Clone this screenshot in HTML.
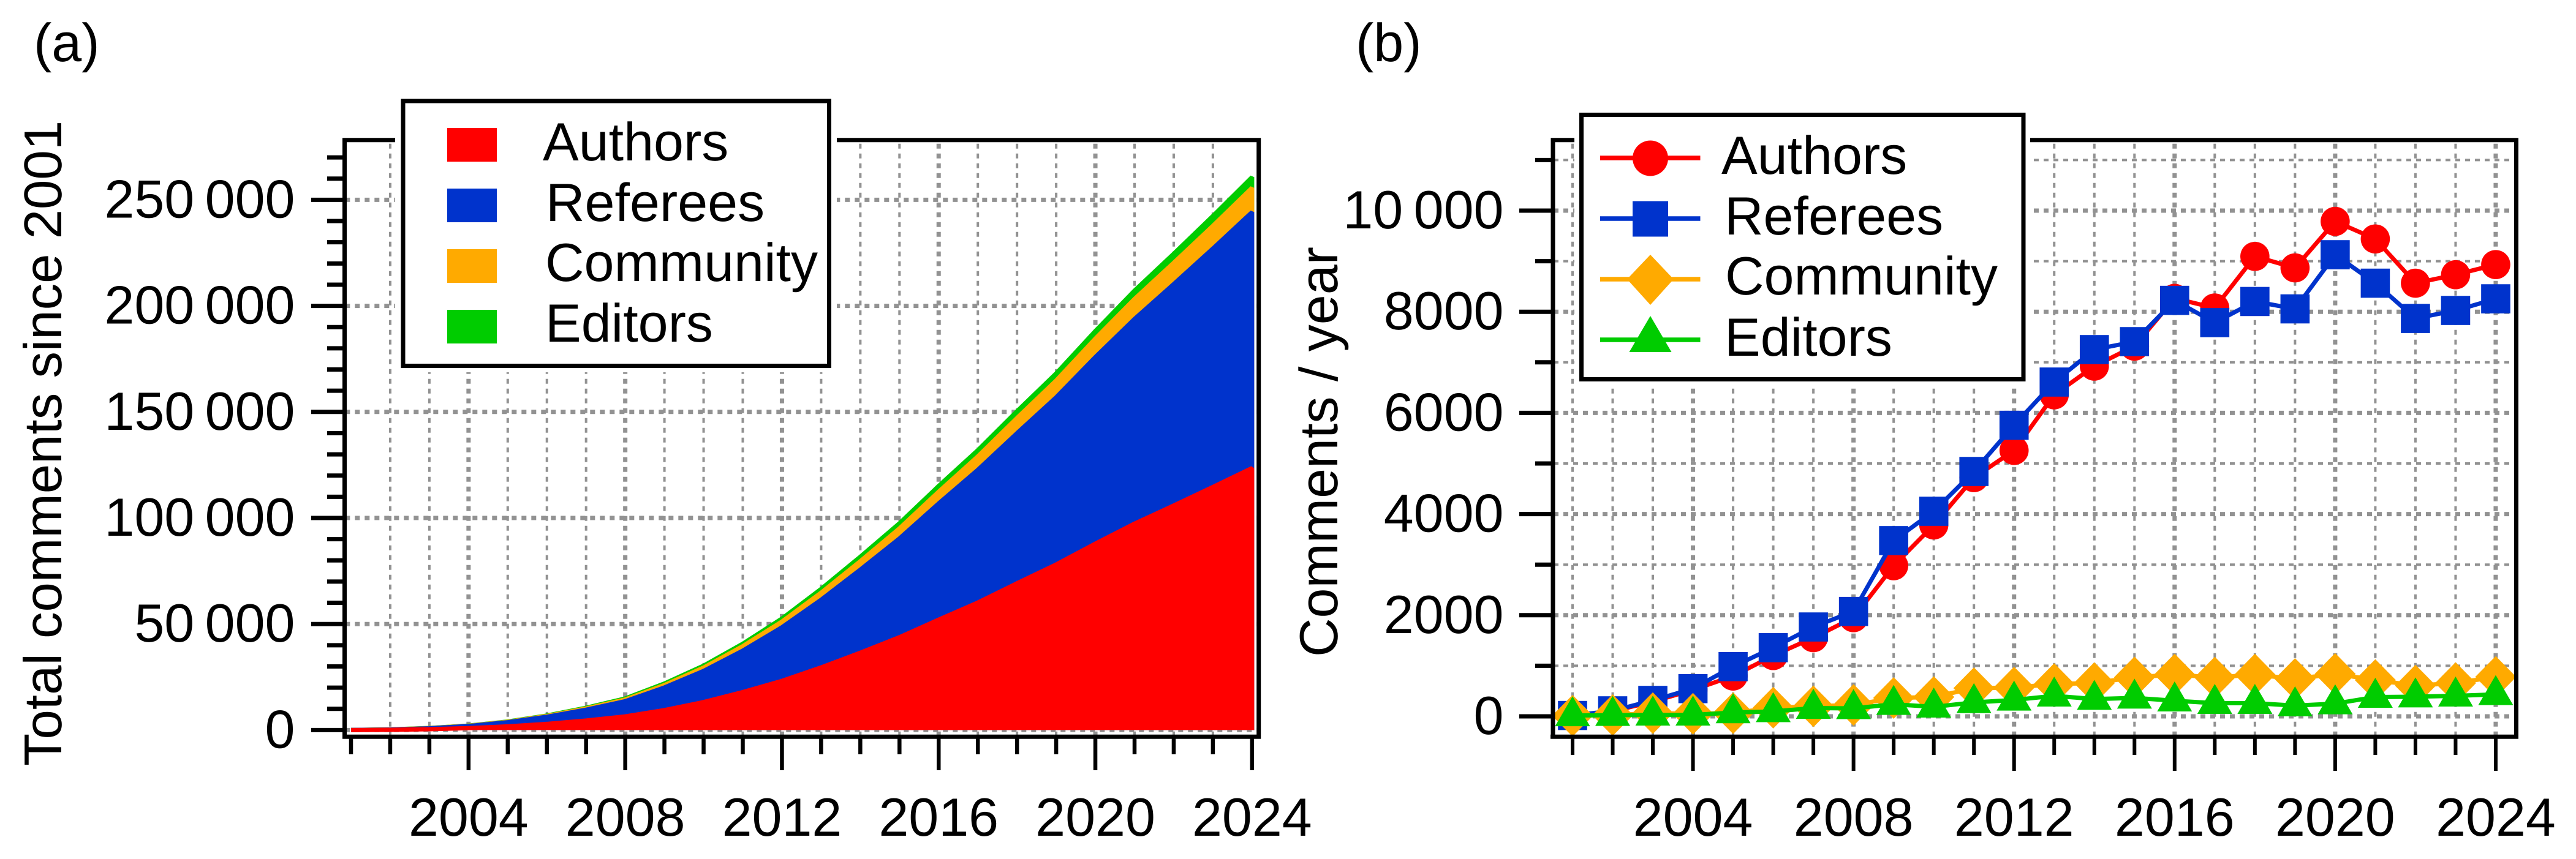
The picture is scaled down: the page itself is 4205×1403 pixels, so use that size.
<!DOCTYPE html>
<html lang="en">
<head>
<meta charset="utf-8">
<title>Comments since 2001</title>
<style>
  html, body { margin: 0; padding: 0; background: #fff; }
  svg { display: block; }
  text { font-family: "Liberation Sans", Arial, sans-serif; font-size: 88px; fill: #000; text-rendering: geometricPrecision; }
  .tick-y { text-anchor: end; word-spacing: -7px; }
  .tick-x { text-anchor: middle; }
</style>
</head>
<body>
<svg id="figure" xmlns="http://www.w3.org/2000/svg" width="4205" height="1403" viewBox="0 0 4205 1403">
  <rect x="0" y="0" width="4205" height="1403" fill="#fff"/>

  <g id="panelA"></g>
  <g id="panelB"></g>

  <text x="55" y="100">(a)</text>
  <text x="2213" y="100">(b)</text>
  <text transform="translate(100 1251) rotate(-90)" style="font-size:87px">Total comments since 2001</text>
  <text transform="translate(2183 1073) rotate(-90)">Comments / year</text>

  <g>
    <rect x="645" y="150" width="721" height="458" fill="#fff"/>
    <rect x="658" y="165" width="695.5" height="432.5" fill="#fff" stroke="#000" stroke-width="7"/>
    <rect x="730" y="209" width="81" height="55" fill="#ff0000"/>
    <rect x="730" y="308" width="81" height="55" fill="#0033cc"/>
    <rect x="730" y="407" width="81" height="55" fill="#ffaa00"/>
    <rect x="730" y="506" width="81" height="55" fill="#00cc00"/>
    <text x="886" y="262">Authors</text>
    <text x="891" y="361">Referees</text>
    <text x="890" y="459">Community</text>
    <text x="890" y="558">Editors</text>
  </g>

  <g>
    <rect x="2570" y="172" width="744" height="461" fill="#fff"/>
    <rect x="2581.5" y="187.5" width="721.5" height="432" fill="#fff" stroke="#000" stroke-width="7"/>
    <g>
      <line x1="2612" x2="2775.5" y1="258" y2="258" stroke="#ff0000" stroke-width="7.5"/>
      <circle cx="2694" cy="258.5" r="29" fill="#ff0000"/>
      <text x="2810" y="284">Authors</text>
    </g>
    <g>
      <line x1="2612" x2="2775.5" y1="357" y2="357" stroke="#0033cc" stroke-width="7.5"/>
      <rect x="2665" y="328.5" width="58" height="58" fill="#0033cc"/>
      <text x="2815" y="383">Referees</text>
    </g>
    <g>
      <line x1="2612" x2="2775.5" y1="456" y2="456" stroke="#ffaa00" stroke-width="7.5"/>
      <polygon points="2694,416 2732,456 2694,498 2656,456" fill="#ffaa00"/>
      <text x="2816" y="481">Community</text>
    </g>
    <g>
      <line x1="2612" x2="2775.5" y1="555" y2="555" stroke="#00cc00" stroke-width="7.5"/>
      <polygon points="2694,516 2728.5,575 2659.5,575" fill="#00cc00"/>
      <text x="2815" y="581">Editors</text>
    </g>
  </g>
</svg>

<script>
// shared categories
const years = [2001,2002,2003,2004,2005,2006,2007,2008,2009,2010,2011,2012,2013,2014,2015,2016,2017,2018,2019,2020,2021,2022,2023,2024];
const xTickLabels = [2004,2008,2012,2016,2020,2024];

// panel (a): cumulative totals per role
const totalAuthors   = [10,110,400,923,1720,2922,4477,6428,9406,13191,17911,23169,29526,36451,43771,52036,60111,69206,78074,87861,97301,105866,114598,123531];
const totalReferees  = [17,126,441,989,1972,3330,5097,7171,10646,14701,19543,25298,31908,39160,46569,54794,62579,70782,78839,87967,96532,104400,112426,120682];
const totalCommunity = [12,36,100,152,215,386,585,810,1173,1552,2109,2678,3312,3967,4736,5561,6326,7151,7888,8725,9440,10045,10700,11477];
const totalEditors   = [5,16,32,48,112,197,348,493,721,891,1134,1427,1799,2108,2441,2717,2945,3173,3353,3571,3921,4278,4650,5050];
const aYTickValues = [0,50000,100000,150000,200000,250000];
const aYTickLabels = ["0","50 000","100 000","150 000","200 000","250 000"];

// panel (b): comments per year
const yearlyAuthors   = [10,100,290,523,797,1202,1555,1951,2978,3785,4720,5258,6357,6925,7320,8265,8075,9095,8868,9787,9440,8565,8732,8933];
const yearlyReferees  = [17,109,315,548,983,1358,1767,2074,3475,4055,4842,5755,6610,7252,7409,8225,7785,8203,8057,9128,8565,7868,8026,8256];
const yearlyCommunity = [12,24,64,52,63,171,199,225,363,383,557,569,638,658,771,827,767,827,738,839,718,609,658,779];
const yearlyEditors   = [17,23,28,28,76,97,163,157,240,188,276,325,406,341,365,309,260,260,212,252,381,389,406,434];
const bYTickValues = [0,2000,4000,6000,8000,10000];
const bYTickLabels = ["0","2000","4000","6000","8000","10 000"];

const NS = "http://www.w3.org/2000/svg";
function mk(parent, tag, attrs) {
  const el = document.createElementNS(NS, tag);
  for (const k in attrs) el.setAttribute(k, attrs[k]);
  parent.appendChild(el);
  return el;
}
const GREY = "#929292";
const RED = "#ff0000", BLUE = "#0033cc", ORANGE = "#ffaa00", GREEN = "#00cc00";

/* ---------- axis functions ---------- */
const xA = y => 573 + (y - 2001) * 63.95;
const yA = v => 1192.4 - v * 0.003464;
const xB = y => 2567 + (y - 2001) * 65.52;
const yB = v => 1170 - v * 0.0826;

/* ---------- panel (a) ---------- */
const A = document.getElementById("panelA");

// grid
for (const yr of years) {
  if (yr === 2001 || yr === 2024) continue;
  const major = (yr % 4 === 0);
  const g = mk(A, "line", {x1: xA(yr), x2: xA(yr), y1: 234.7, y2: 1200, stroke: GREY, "stroke-width": major ? 7 : 4, "stroke-dasharray": "8 8"});
  
  
}
for (const v of aYTickValues) {
  const g = mk(A, "line", {x1: 563.3, x2: 2052, y1: yA(v), y2: yA(v), stroke: GREY, "stroke-width": 7, "stroke-dasharray": "8 8"});
  
  
}

// stacked bands: painted from the top of the stack down
const stack0 = totalAuthors.slice();
const stack1 = stack0.map((v, i) => v + totalReferees[i]);
const stack2 = stack1.map((v, i) => v + totalCommunity[i]);
const stack3 = stack2.map((v, i) => v + totalEditors[i]);
function band(stack, color, name) {
  const pts = years.map((yr, i) => xA(yr).toFixed(1) + "," + yA(stack[i]).toFixed(1));
  const x0 = xA(years[0]).toFixed(1), x1 = xA(years[years.length - 1]).toFixed(1), y0 = yA(0).toFixed(1);
  const fill = mk(A, "polygon", {points: x0 + "," + y0 + " " + pts.join(" ") + " " + x1 + "," + y0, fill: color});
  
  
  const edge = mk(A, "polyline", {points: pts.join(" ") + " " + x1 + "," + y0, fill: "none", stroke: color, "stroke-width": 7, "stroke-linejoin": "bevel"});
  
  
}
band(stack3, GREEN, "editors");
band(stack2, ORANGE, "community");
band(stack1, BLUE, "referees");
band(stack0, RED, "authors");

// axis ticks
for (let v = 0; v <= 270000; v += 10000) {
  const major = (v % 50000 === 0);
  const t = mk(A, "line", {x1: major ? 508 : 534, x2: 562, y1: yA(v), y2: yA(v), stroke: "#000", "stroke-width": 7});
  
  
}
for (const yr of years) {
  const major = (yr % 4 === 0);
  const t = mk(A, "line", {x1: xA(yr), x2: xA(yr), y1: 1203, y2: major ? 1258 : 1232, stroke: "#000", "stroke-width": 6.5});
  
  
}
aYTickValues.forEach((v, i) => {
  const t = mk(A, "text", {x: 481.5, y: yA(v) + 29, class: "tick-y"});
  t.textContent = aYTickLabels[i];
  
  
});
xTickLabels.forEach(yr => {
  const t = mk(A, "text", {x: xA(yr), y: 1365, class: "tick-x"});
  t.textContent = String(yr);
  
  
});
// frame
const frameA = mk(A, "path", {d: "M562.5 228.7H2054.7V1203.2H560 M562.5 225.2V1206.7", fill: "none", stroke: "#000", "stroke-width": 7});



/* ---------- panel (b) ---------- */
const B = document.getElementById("panelB");

for (const yr of years) {
  const major = (yr % 4 === 0);
  const g = mk(B, "line", {x1: xB(yr), x2: xB(yr), y1: 234.7, y2: 1200, stroke: GREY, "stroke-width": major ? 7 : 4, "stroke-dasharray": "8 8"});
  
  
}
for (let v = 0; v <= 11000; v += 1000) {
  const major = (v % 2000 === 0);
  const g = mk(B, "line", {x1: 2536, x2: 4104, y1: yB(v), y2: yB(v), stroke: GREY, "stroke-width": major ? 7 : 4, "stroke-dasharray": "8 8"});
  
  
}

function seriesLine(values, color, name) {
  const pts = years.map((yr, i) => xB(yr).toFixed(1) + "," + yB(values[i]).toFixed(1)).join(" ");
  const l = mk(B, "polyline", {points: pts, fill: "none", stroke: color, "stroke-width": 7, "stroke-linejoin": "round"});
  
  
}
// authors
seriesLine(yearlyAuthors, RED, "authors");
years.forEach((yr, i) => {
  const m = mk(B, "circle", {cx: xB(yr), cy: yB(yearlyAuthors[i]), r: 23.8, fill: RED});
  
  
});
// referees
seriesLine(yearlyReferees, BLUE, "referees");
years.forEach((yr, i) => {
  const m = mk(B, "rect", {x: xB(yr) - 23.8, y: yB(yearlyReferees[i]) - 23.8, width: 47.6, height: 47.6, fill: BLUE});
  
  
});
// community
seriesLine(yearlyCommunity, ORANGE, "community");
years.forEach((yr, i) => {
  const cx = xB(yr), cy = yB(yearlyCommunity[i]);
  const m = mk(B, "polygon", {points: cx + "," + (cy - 34) + " " + (cx + 33.5) + "," + cy + " " + cx + "," + (cy + 34) + " " + (cx - 33.5) + "," + cy, fill: ORANGE});
  
  
});
// editors
seriesLine(yearlyEditors, GREEN, "editors");
years.forEach((yr, i) => {
  const cx = xB(yr), cy = yB(yearlyEditors[i]);
  const m = mk(B, "polygon", {points: cx + "," + (cy - 31.5) + " " + (cx + 28.5) + "," + (cy + 17.5) + " " + (cx - 28.5) + "," + (cy + 17.5), fill: GREEN});
  
  
});

for (let v = 0; v <= 11000; v += 1000) {
  const major = (v % 2000 === 0);
  const t = mk(B, "line", {x1: major ? 2480 : 2506, x2: 2535, y1: yB(v), y2: yB(v), stroke: "#000", "stroke-width": 7});
  
  
}
for (const yr of years) {
  const major = (yr % 4 === 0);
  const t = mk(B, "line", {x1: xB(yr), x2: xB(yr), y1: 1203, y2: major ? 1259 : 1233, stroke: "#000", "stroke-width": 6});
  
  
}
bYTickValues.forEach((v, i) => {
  const t = mk(B, "text", {x: 2454.5, y: yB(v) + 29, class: "tick-y"});
  t.textContent = bYTickLabels[i];
  
  
});
xTickLabels.forEach(yr => {
  const t = mk(B, "text", {x: xB(yr), y: 1365, class: "tick-x"});
  t.textContent = String(yr);
  
  
});
const frameB = mk(B, "path", {d: "M2535 228.7H4107.5V1203.2H2531 M2535 225.2V1206.7", fill: "none", stroke: "#000", "stroke-width": 7});


</script>
</body>
</html>
